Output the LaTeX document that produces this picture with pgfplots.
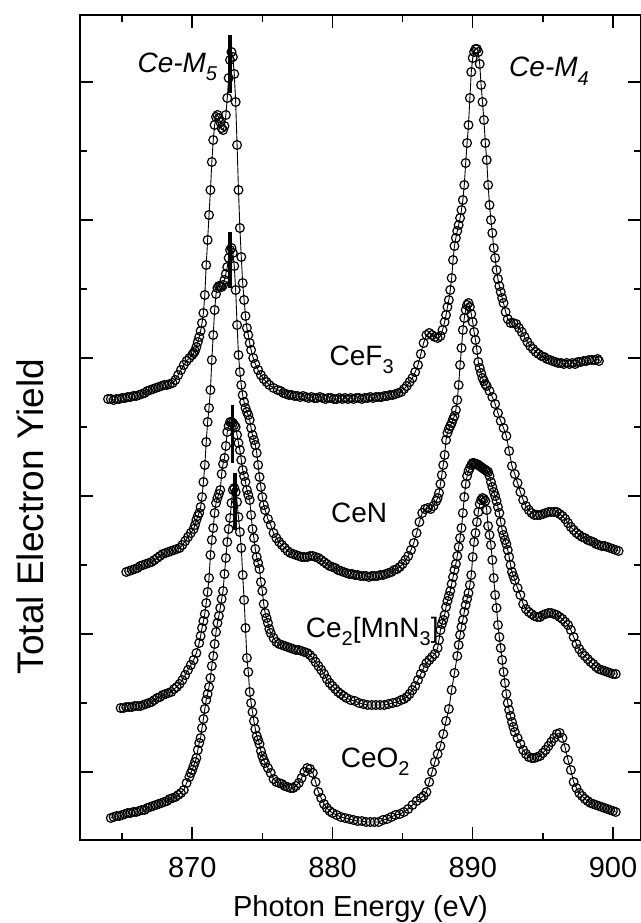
\documentclass[border=0pt]{standalone}
\usepackage{fontspec}
\setmainfont{Liberation Sans}
\usepackage{pgfplots}
\pgfplotsset{compat=1.18}
\newcommand\lab{\fontsize{14}{16}\selectfont}
\newcommand\sub[1]{\raisebox{-0.55ex}{\fontsize{10}{11}\selectfont #1}}
\begin{document}
\begin{tikzpicture}
\begin{axis}[
  scale only axis, width=280.5pt, height=412.5pt,
  xmin=862, xmax=902, ymin=0, ymax=825,
  xtick={870,880,890,900}, minor xtick={865,875,885,895},
  ytick={68,206,344,482,620,758}, minor ytick={137,275,413,551,689},
  yticklabels={},
  tick align=inside,
  major tick length=6.5pt, minor tick length=3.5pt,
  axis line style={line width=1pt},
  every tick/.append style={black, line width=0.8pt},
  /pgf/number format/assume math mode=true,
  /pgf/number format/set thousands separator={},
  xticklabel style={font=\fontsize{14.5}{16}\selectfont, yshift=-5pt},
  xlabel={Photon Energy (eV)},
  xlabel style={font=\fontsize{14.5}{16}\selectfont, at={(rel axis cs:0.5,0)}, anchor=base, yshift=-38pt},
  ylabel={Total Electron Yield},
  ylabel style={font=\fontsize{18.5}{20}\selectfont, at={(rel axis cs:-0.089,0.392)}, anchor=center},
  spec/.style={black, line width=0.45pt, mark=o, mark size=2.2pt,
    mark options={fill=white, line width=0.6pt, solid}},
  bar/.style={black, mark=none, line width=1.6pt},
]
\coordinate (bl) at (rel axis cs:0,0);
\coordinate (tr) at (rel axis cs:1,1);
% CeF3
\addplot[spec] coordinates {(864.0,441)(864.2,441)(864.4,440)(864.6,441)(864.8,441)(865.0,442)(865.2,442)(865.4,443)(865.6,443)(865.8,444)(866.0,444)(866.2,445)(866.4,446)(866.6,447)(866.8,449)(867.0,450)(867.2,451)(867.4,452)(867.6,453)(867.8,454)(868.0,455)(868.2,455)(868.4,456)(868.6,457)(868.8,460)(869.0,465)(869.2,470)(869.4,475)(869.6,479)(869.8,482)(870.0,485)(870.1,487)(870.2,489)(870.3,493)(870.4,498)(870.5,503)(870.6,509)(870.7,517)(870.8,527)(870.9,545)(871.0,575)(871.1,600)(871.2,625)(871.3,650)(871.4,678)(871.5,700)(871.6,715)(871.7,723)(871.8,725)(871.9,722)(872.0,718)(872.1,712)(872.2,710)(872.3,714)(872.4,725)(872.5,742)(872.6,762)(872.7,780)(872.8,788)(872.9,783)(873.0,766)(873.1,738)(873.2,695)(873.3,650)(873.4,612)(873.5,583)(873.6,557)(873.7,540)(873.8,524)(873.9,512)(874.0,505)(874.1,497)(874.2,490)(874.35,482)(874.5,476)(874.7,470)(874.9,465)(875.1,461)(875.3,458)(875.5,455)(875.8,452)(876.1,450)(876.3,449)(876.5,447)(876.7,446)(876.9,445)(877.1,445)(877.3,444)(877.5,444)(877.7,443)(877.9,444)(878.1,443)(878.3,442)(878.5,443)(878.7,442)(878.9,442)(879.1,443)(879.3,442)(879.5,441)(879.7,442)(879.9,442)(880.1,441)(880.3,441)(880.5,442)(880.7,441)(880.9,442)(881.1,441)(881.3,442)(881.5,441)(881.7,442)(881.9,442)(882.1,441)(882.3,442)(882.5,442)(882.7,443)(882.9,442)(883.1,443)(883.3,443)(883.5,443)(883.7,444)(883.9,444)(884.1,445)(884.3,445)(884.5,446)(884.7,447)(884.9,448)(885.1,451)(885.3,454)(885.5,458)(885.7,462)(885.9,468)(886.1,475)(886.3,486)(886.5,497)(886.7,505)(886.9,507)(887.1,505)(887.3,503)(887.5,502)(887.7,504)(887.85,510)(888.0,518)(888.1,525)(888.2,533)(888.3,540)(888.4,550)(888.5,562)(888.6,580)(888.7,594)(888.8,602)(888.9,609)(889.0,615)(889.1,622)(889.2,630)(889.3,640)(889.4,655)(889.5,677)(889.6,697)(889.7,715)(889.8,742)(889.9,768)(890.0,782)(890.1,788)(890.2,791)(890.3,791)(890.4,788)(890.5,776)(890.6,755)(890.7,738)(890.8,720)(890.9,697)(891.0,680)(891.1,655)(891.2,635)(891.3,620)(891.4,607)(891.5,592)(891.6,582)(891.7,570)(891.8,561)(891.9,554)(892.0,548)(892.1,542)(892.2,537)(892.35,528)(892.5,521)(892.7,517)(892.9,517)(893.1,516)(893.3,512)(893.5,508)(893.7,503)(893.9,498)(894.1,494)(894.3,491)(894.5,488)(894.7,486)(894.9,484)(895.1,483)(895.3,481)(895.5,480)(895.7,479)(895.9,478)(896.1,477)(896.3,477)(896.5,476)(896.7,477)(896.9,476)(897.1,477)(897.3,476)(897.5,478)(897.7,478)(897.9,479)(898.1,479)(898.3,480)(898.5,480)(898.7,480)(898.9,481)(899.0,479)};
% CeN
\addplot[spec] coordinates {(865.3,268)(865.5,269)(865.7,270)(865.9,271)(866.1,272)(866.3,274)(866.5,275)(866.7,276)(866.9,277)(867.1,278)(867.3,280)(867.5,282)(867.7,284)(867.9,286)(868.1,287)(868.3,288)(868.5,289)(868.7,290)(868.9,291)(869.1,292)(869.3,295)(869.5,299)(869.7,303)(869.9,307)(870.1,311)(870.2,315)(870.3,320)(870.4,324)(870.5,327)(870.6,333)(870.7,343)(870.8,358)(870.9,375)(871.0,398)(871.1,418)(871.2,432)(871.3,450)(871.4,480)(871.5,505)(871.6,530)(871.7,546)(871.8,552)(871.9,554)(872.0,554)(872.1,553)(872.2,555)(872.3,560)(872.4,566)(872.5,573)(872.6,582)(872.7,590)(872.8,592)(872.9,587)(873.0,574)(873.1,550)(873.2,515)(873.3,485)(873.4,468)(873.5,455)(873.6,445)(873.7,438)(873.8,432)(873.9,428)(874.0,425)(874.1,420)(874.2,412)(874.3,405)(874.4,400)(874.5,395)(874.6,387)(874.7,375)(874.8,363)(874.9,353)(875.0,343)(875.1,335)(875.2,330)(875.4,321)(875.6,315)(875.8,307)(876.0,302)(876.2,298)(876.4,295)(876.6,292)(876.8,289)(877.0,287)(877.2,286)(877.4,285)(877.6,284)(877.8,283)(878.0,283)(878.2,283)(878.4,284)(878.6,284)(878.8,283)(879.0,282)(879.2,280)(879.4,278)(879.6,276)(879.8,274)(880.0,273)(880.2,272)(880.4,270)(880.6,269)(880.8,268)(881.0,267)(881.2,266)(881.4,266)(881.6,265)(881.8,265)(882.0,264)(882.2,264)(882.4,264)(882.6,263)(882.8,264)(883.0,264)(883.2,264)(883.4,265)(883.6,265)(883.8,266)(884.0,267)(884.2,268)(884.4,270)(884.6,271)(884.8,273)(885.0,276)(885.2,280)(885.4,284)(885.6,290)(885.8,297)(886.0,307)(886.2,318)(886.4,327)(886.6,331)(886.8,332)(887.0,331)(887.2,334)(887.4,339)(887.5,342)(887.6,347)(887.7,356)(887.8,365)(887.9,375)(888.0,385)(888.1,400)(888.2,407)(888.3,411)(888.4,414)(888.5,417)(888.6,421)(888.7,424)(888.8,430)(888.9,440)(889.0,455)(889.1,475)(889.2,492)(889.3,510)(889.4,522)(889.5,530)(889.6,535)(889.7,537)(889.8,533)(889.9,526)(890.0,518)(890.1,508)(890.2,500)(890.3,490)(890.4,478)(890.5,472)(890.6,467)(890.7,462)(890.8,459)(890.9,456)(891.0,454)(891.2,449)(891.4,443)(891.6,436)(891.8,427)(892.0,419)(892.2,412)(892.4,404)(892.6,389)(892.8,374)(893.0,366)(893.2,357)(893.4,348)(893.6,340)(893.8,334)(894.0,330)(894.2,327)(894.4,325)(894.6,325)(894.8,325)(895.0,326)(895.2,327)(895.4,328)(895.6,328)(895.8,328)(896.0,328)(896.2,326)(896.4,324)(896.6,321)(896.8,317)(897.0,313)(897.2,310)(897.4,307)(897.6,305)(897.8,303)(898.0,302)(898.2,300)(898.4,299)(898.6,298)(898.8,296)(899.0,295)(899.2,294)(899.4,294)(899.6,293)(899.8,292)(900.0,291)(900.2,290)(900.4,289)};
% Ce2[MnN3]
\addplot[spec] coordinates {(864.9,132)(865.1,132)(865.3,133)(865.5,133)(865.7,133)(865.9,134)(866.1,134)(866.3,134)(866.5,135)(866.7,136)(866.9,137)(867.1,138)(867.3,140)(867.5,142)(867.7,143)(867.9,145)(868.1,146)(868.3,147)(868.5,148)(868.7,151)(868.9,153)(869.1,156)(869.3,160)(869.5,165)(869.7,170)(869.9,175)(870.1,180)(870.3,187)(870.5,197)(870.6,204)(870.7,212)(870.8,219)(870.9,226)(871.0,237)(871.1,248)(871.2,262)(871.3,285)(871.4,300)(871.5,312)(871.6,327)(871.7,337)(871.8,342)(871.9,346)(872.0,350)(872.1,366)(872.2,376)(872.3,382)(872.4,394)(872.5,408)(872.6,414)(872.7,418)(872.8,418)(872.9,417)(873.0,415)(873.1,413)(873.2,405)(873.3,397)(873.4,390)(873.5,380)(873.6,370)(873.7,364)(873.8,358)(873.9,350)(874.0,345)(874.1,340)(874.2,325)(874.3,311)(874.4,302)(874.5,291)(874.6,283)(874.7,277)(874.8,271)(874.9,258)(875.0,249)(875.1,236)(875.2,227)(875.3,222)(875.4,217)(875.5,211)(875.6,207)(875.8,202)(876.0,198)(876.2,196)(876.4,195)(876.6,194)(876.8,193)(877.0,192)(877.2,191)(877.4,190)(877.6,190)(877.8,189)(878.0,188)(878.2,187)(878.4,185)(878.6,182)(878.8,178)(879.0,174)(879.2,170)(879.4,166)(879.6,161)(879.8,157)(880.0,154)(880.2,151)(880.4,148)(880.6,146)(880.8,144)(881.0,142)(881.3,140)(881.6,139)(881.9,137)(882.2,136)(882.5,135)(882.8,135)(883.1,135)(883.4,135)(883.7,135)(884.0,136)(884.3,137)(884.6,138)(884.9,140)(885.1,141)(885.3,143)(885.5,146)(885.7,150)(885.9,154)(886.1,160)(886.3,166)(886.5,172)(886.7,177)(886.9,180)(887.1,183)(887.3,186)(887.5,192)(887.6,200)(887.7,210)(887.8,216)(887.9,220)(888.0,225)(888.1,233)(888.2,239)(888.3,244)(888.4,249)(888.5,256)(888.6,263)(888.7,270)(888.8,276)(888.9,284)(889.0,293)(889.1,302)(889.2,312)(889.3,327)(889.4,343)(889.5,356)(889.6,364)(889.7,369)(889.8,372)(889.9,375)(890.0,377)(890.1,377)(890.2,376)(890.3,376)(890.4,375)(890.5,374)(890.6,373)(890.7,372)(890.8,371)(890.9,370)(891.0,369)(891.1,368)(891.2,364)(891.3,358)(891.4,353)(891.5,348)(891.6,344)(891.7,339)(891.8,333)(891.9,327)(892.0,318)(892.1,310)(892.2,305)(892.3,300)(892.4,296)(892.5,290)(892.6,283)(892.7,275)(892.8,268)(892.9,264)(893.0,260)(893.2,252)(893.4,245)(893.6,236)(893.8,231)(894.0,228)(894.2,226)(894.4,224)(894.6,223)(894.8,223)(895.0,225)(895.2,226)(895.4,227)(895.6,227)(895.8,226)(896.0,225)(896.2,223)(896.4,221)(896.6,218)(896.8,215)(897.0,210)(897.2,203)(897.4,196)(897.6,191)(897.8,187)(898.0,184)(898.2,181)(898.4,178)(898.6,176)(898.8,173)(899.0,171)(899.2,170)(899.4,169)(899.6,168)(899.8,167)(900.0,166)(900.2,166)};
% CeO2
\addplot[spec] coordinates {(864.2,22)(864.4,23)(864.6,24)(864.8,24)(865.0,25)(865.2,26)(865.4,27)(865.6,27)(865.8,28)(866.0,28)(866.2,29)(866.4,30)(866.6,30)(866.8,32)(867.0,33)(867.2,34)(867.4,35)(867.6,36)(867.8,37)(868.0,38)(868.2,39)(868.4,41)(868.6,42)(868.8,43)(869.0,45)(869.2,47)(869.4,50)(869.6,57)(869.8,63)(869.9,67)(870.0,70)(870.1,74)(870.2,78)(870.3,82)(870.4,90)(870.5,97)(870.6,102)(870.7,112)(870.8,121)(870.9,131)(871.0,140)(871.1,146)(871.2,153)(871.3,162)(871.4,174)(871.5,184)(871.6,196)(871.7,208)(871.8,217)(871.9,224)(872.0,232)(872.1,241)(872.2,249)(872.3,266)(872.4,282)(872.5,298)(872.6,311)(872.7,322)(872.8,337)(872.9,350)(873.0,352)(873.1,348)(873.2,338)(873.3,323)(873.4,308)(873.5,292)(873.6,265)(873.7,240)(873.8,212)(873.9,182)(874.0,168)(874.1,148)(874.2,137)(874.3,128)(874.4,119)(874.5,111)(874.6,104)(874.7,100)(874.8,96)(874.9,89)(875.0,84)(875.1,80)(875.2,77)(875.4,72)(875.6,67)(875.8,61)(876.0,58)(876.2,57)(876.4,56)(876.6,54)(876.8,53)(877.0,52)(877.2,52)(877.4,54)(877.6,57)(877.8,62)(878.0,68)(878.2,72)(878.4,71)(878.6,67)(878.8,58)(879.0,48)(879.2,42)(879.4,36)(879.6,32)(879.8,29)(880.0,27)(880.3,25)(880.6,23)(880.9,22)(881.2,21)(881.5,20)(881.8,19)(882.1,19)(882.4,18)(882.7,18)(883.0,18)(883.3,18)(883.6,20)(883.9,21)(884.2,23)(884.5,25)(884.8,26)(885.1,28)(885.4,31)(885.7,35)(886.0,39)(886.3,42)(886.5,44)(886.7,48)(886.9,58)(887.1,68)(887.3,78)(887.5,86)(887.7,94)(887.9,106)(888.1,119)(888.3,131)(888.5,150)(888.7,167)(888.9,184)(889.0,195)(889.1,205)(889.2,213)(889.3,220)(889.4,228)(889.5,235)(889.6,241)(889.7,247)(889.8,255)(889.9,265)(890.0,283)(890.1,298)(890.2,307)(890.3,318)(890.4,328)(890.5,336)(890.6,340)(890.7,342)(890.8,341)(890.9,339)(891.0,330)(891.1,314)(891.2,305)(891.3,295)(891.4,280)(891.5,262)(891.6,245)(891.7,232)(891.8,215)(891.9,203)(892.0,192)(892.1,180)(892.2,168)(892.3,157)(892.4,146)(892.5,137)(892.6,130)(892.7,124)(892.8,118)(892.9,113)(893.0,108)(893.2,102)(893.4,96)(893.6,90)(893.8,86)(894.0,83)(894.2,82)(894.4,82)(894.6,83)(894.8,84)(895.0,87)(895.2,90)(895.4,94)(895.6,98)(895.8,102)(896.0,106)(896.2,107)(896.4,102)(896.6,92)(896.8,80)(897.0,70)(897.2,58)(897.4,52)(897.6,47)(897.8,44)(898.0,41)(898.2,39)(898.4,37)(898.6,36)(898.8,35)(899.0,34)(899.2,33)(899.4,32)(899.6,31)(899.8,30)(900.0,29)(900.2,28)};
% peak position bars
\addplot[bar] coordinates {(872.7,747)(872.7,805)};
\addplot[bar] coordinates {(872.7,552)(872.7,608)};
\addplot[bar] coordinates {(872.9,377)(872.9,435)};
\addplot[bar] coordinates {(873.05,310)(873.05,367)};
% labels
\node[anchor=base west, font=\lab] at (axis cs:879.3,475) {CeF\sub{3}};
\node[anchor=base west, font=\lab] at (axis cs:879.4,318) {CeN};
\node[anchor=base west, font=\lab] at (axis cs:877.6,203) {Ce\sub{2}[MnN\sub{3}]};
\node[anchor=base west, font=\lab] at (axis cs:880.1,73) {CeO\sub{2}};
\node[anchor=base west, font=\lab\itshape] at (axis cs:865.6,768) {Ce-M\sub{5}};
\node[anchor=base west, font=\lab\itshape] at (axis cs:892.1,763) {Ce-M\sub{4}};
\end{axis}
\pgfresetboundingbox
\useasboundingbox ([shift={(-40pt,-41.5pt)}]bl) rectangle ([shift={(0pt,7.5pt)}]tr);
\end{tikzpicture}
\end{document}
